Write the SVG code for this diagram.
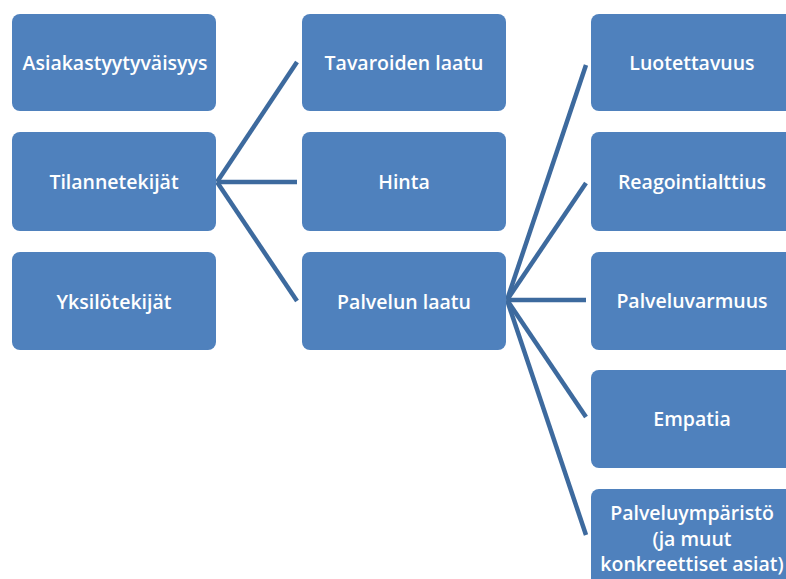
<svg xmlns="http://www.w3.org/2000/svg" width="786" height="579" viewBox="0 0 786 579">
<style>
.box{fill:#4f81bd;}
.t{fill:#ffffff;font-family:"Open Sans","Liberation Sans",sans-serif;font-weight:600;font-size:19.5px;text-anchor:middle;dominant-baseline:central;}
.c{stroke:#3d6a9e;stroke-width:4.5;fill:none;stroke-linecap:butt;}
</style>
<rect width="786" height="579" fill="#ffffff"/>
<g id="connectors">
<line class="c" x1="217" y1="182" x2="297" y2="62"/>
<line class="c" x1="217" y1="182" x2="297" y2="182"/>
<line class="c" x1="217" y1="182" x2="297" y2="301"/>
<line class="c" x1="507" y1="300" x2="586" y2="65"/>
<line class="c" x1="507" y1="300" x2="586" y2="183"/>
<line class="c" x1="507" y1="300" x2="586" y2="300"/>
<line class="c" x1="507" y1="300" x2="586" y2="417"/>
<line class="c" x1="507" y1="300" x2="586" y2="535"/>
</g>
<g id="asiakastyytyvaisyys"><rect class="box" x="12" y="14" width="204" height="97" rx="8"/><text class="t" x="115" y="62">Asiakastyytyväisyys</text></g>
<g id="tilannetekijat"><rect class="box" x="12" y="132" width="204" height="99" rx="8"/><text class="t" x="114" y="181">Tilannetekijät</text></g>
<g id="yksilotekijat"><rect class="box" x="12" y="252" width="204" height="98" rx="8"/><text class="t" x="114" y="301">Yksilötekijät</text></g>
<g id="tavaroiden-laatu"><rect class="box" x="302" y="14" width="204" height="97" rx="8"/><text class="t" x="404" y="62">Tavaroiden laatu</text></g>
<g id="hinta"><rect class="box" x="302" y="132" width="204" height="99" rx="8"/><text class="t" x="404" y="181">Hinta</text></g>
<g id="palvelun-laatu"><rect class="box" x="302" y="252" width="204" height="98" rx="8"/><text class="t" x="404" y="301">Palvelun laatu</text></g>
<g id="luotettavuus"><rect class="box" x="591" y="14" width="204" height="97" rx="8"/><text class="t" x="692" y="62">Luotettavuus</text></g>
<g id="reagointialttius"><rect class="box" x="591" y="132" width="204" height="99" rx="8"/><text class="t" x="692" y="181">Reagointialttius</text></g>
<g id="palveluvarmuus"><rect class="box" x="591" y="252" width="204" height="98" rx="8"/><text class="t" x="692" y="300">Palveluvarmuus</text></g>
<g id="empatia"><rect class="box" x="591" y="370" width="204" height="98" rx="8"/><text class="t" x="692" y="418">Empatia</text></g>
<g id="palveluymparisto"><rect class="box" x="591" y="489" width="204" height="100" rx="8"/><text class="t" x="692" y="512">Palveluympäristö</text><text class="t" x="692" y="538">(ja muut</text><text class="t" x="692" y="563">konkreettiset asiat)</text></g>
</svg>
